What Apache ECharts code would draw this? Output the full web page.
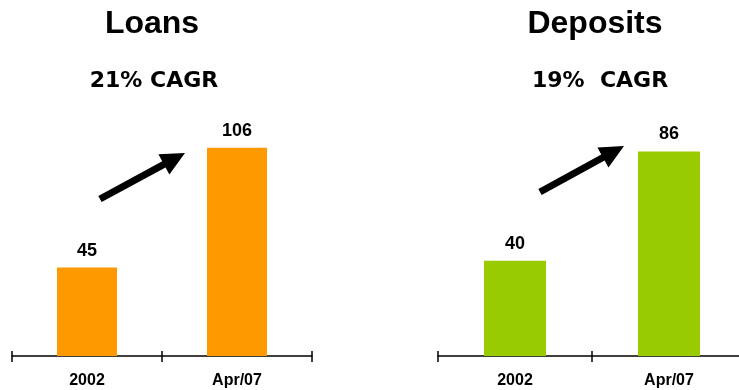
<!DOCTYPE html>
<html>
<head>
<meta charset="utf-8">
<script src="https://cdn.jsdelivr.net/npm/echarts@6/dist/echarts.min.js"></script>
<style>
  html, body { margin: 0; padding: 0; background: #ffffff; }
  #chart { width: 739px; height: 390px; }
</style>
</head>
<body>
<div id="chart"></div>
<script>
// Categories and values for the two panels
const periods = ['2002', 'Apr/07'];
const loans = [45, 106];
const deposits = [40, 86];
const panelTitles = ['Loans', 'Deposits'];
const growthNotes = ['21% CAGR', '19%  CAGR'];

const chart = echarts.init(document.getElementById('chart'), null, { renderer: 'canvas' });

// Thick block arrow from tail to tip, as a polygon
function arrowPoints(x1, y1, x2, y2, shaft, headLen, headW) {
  const dx = x2 - x1, dy = y2 - y1;
  const len = Math.hypot(dx, dy);
  const ux = dx / len, uy = dy / len;
  const nx = -uy, ny = ux;
  const bx = x2 - ux * headLen, by = y2 - uy * headLen;
  const s = shaft / 2, h = headW / 2;
  return [
    [x1 + nx * s, y1 + ny * s],
    [bx + nx * s, by + ny * s],
    [bx + nx * h, by + ny * h],
    [x2, y2],
    [bx - nx * h, by - ny * h],
    [bx - nx * s, by - ny * s],
    [x1 - nx * s, y1 - ny * s]
  ];
}

const panels = [
  { left: 12, width: 300, max: 115, barWidth: 60, color: '#FF9900', values: loans,
    titleX: 152, noteX: 154, arrow: [100, 199, 185, 153] },
  { left: 438, width: 308, max: 95, barWidth: 62, color: '#99CC00', values: deposits,
    titleX: 595, noteX: 600, arrow: [540, 192, 624, 146] }
];

const labelFont = 'Liberation Sans';

const grid = [], xAxis = [], yAxis = [], series = [], graphic = [];

panels.forEach((p, i) => {
  // The deposits axis runs past the right edge of the canvas, so no bounds fitting
  grid.push({ left: p.left, width: p.width, top: 130, height: 226, outerBoundsMode: 'none', containLabel: false });

  // Main category axis: line, downward ticks, labels
  xAxis.push({
    type: 'category', gridIndex: i, data: periods, position: 'bottom',
    axisLine: { show: true, lineStyle: { color: '#000', width: 1.5 } },
    axisTick: { show: true, length: 6, lineStyle: { color: '#000', width: 1.5 } },
    axisLabel: { color: '#000', fontFamily: labelFont, fontWeight: 'bold', fontSize: 16, margin: 17 },
    splitLine: { show: false }
  });
  // Companion axis for the upward half of the tick marks
  xAxis.push({
    type: 'category', gridIndex: i, data: periods, position: 'bottom',
    axisLine: { show: false },
    axisTick: { show: true, inside: true, length: 5, lineStyle: { color: '#000', width: 1.5 } },
    axisLabel: { show: false },
    splitLine: { show: false }
  });

  yAxis.push({ type: 'value', gridIndex: i, min: 0, max: p.max, show: false, splitLine: { show: false } });

  series.push({
    type: 'bar', xAxisIndex: i * 2, yAxisIndex: i, data: p.values,
    barWidth: p.barWidth,
    itemStyle: { color: p.color },
    label: {
      show: true, position: 'top', distance: 8,
      color: '#000', fontFamily: labelFont, fontWeight: 'bold', fontSize: 18
    },
    silent: true, animation: false
  });

  graphic.push({
    type: 'text', x: p.titleX, y: 24,
    style: { text: panelTitles[i], fontFamily: 'Liberation Sans', fontWeight: 'bold', fontSize: 32,
             fill: '#000', align: 'center', verticalAlign: 'middle' }
  });
  graphic.push({
    type: 'text', x: p.noteX, y: 81,
    style: { text: growthNotes[i], fontFamily: 'DejaVu Sans', fontWeight: 'bold', fontSize: 22,
             fill: '#000', align: 'center', verticalAlign: 'middle' }
  });
  const a = p.arrow;
  graphic.push({
    type: 'polygon',
    shape: { points: arrowPoints(a[0], a[1], a[2], a[3], 7, 24, 23) },
    style: { fill: '#000' }
  });
});

chart.setOption({
  backgroundColor: '#ffffff',
  animation: false,
  grid, xAxis, yAxis, series, graphic
});
</script>
</body>
</html>
